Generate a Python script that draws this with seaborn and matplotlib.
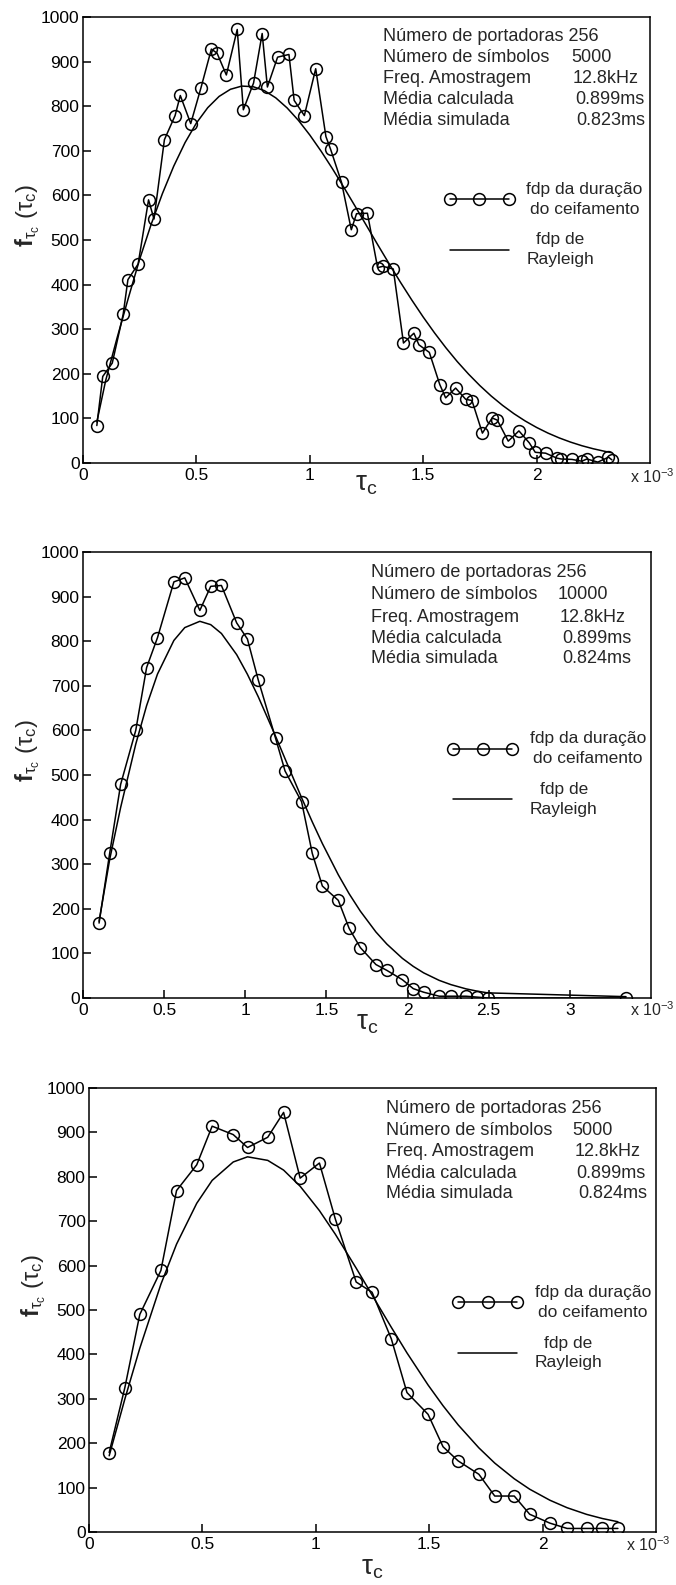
import matplotlib
matplotlib.use('Agg')
import matplotlib.pyplot as plt
import seaborn as sns
import pandas as pd

# ---------------- data ----------------
p1_x = [0.061, 0.087, 0.129, 0.177, 0.198, 0.243, 0.289, 0.313, 0.359, 0.406,
        0.429, 0.475, 0.520, 0.566, 0.591, 0.632, 0.680, 0.707, 0.752, 0.790,
        0.813, 0.858, 0.908, 0.931, 0.976, 1.026, 1.071, 1.092, 1.140, 1.183,
        1.206, 1.254, 1.299, 1.322, 1.368, 1.413, 1.459, 1.481, 1.527, 1.573,
        1.599, 1.643, 1.687, 1.715, 1.761, 1.804, 1.827, 1.875, 1.922, 1.968,
        1.994, 2.040, 2.089, 2.108, 2.156, 2.199, 2.222, 2.270, 2.317, 2.332]
p1_y = [84, 194, 224, 333, 411, 446, 590, 547, 725, 779,
        824, 761, 841, 928, 919, 870, 972, 792, 852, 963,
        843, 910, 916, 813, 779, 884, 732, 703, 629, 523,
        559, 560, 438, 441, 435, 269, 291, 265, 248, 176,
        146, 168, 143, 140, 67, 101, 96, 49, 72, 45,
        24, 22, 11, 9, 8, 4, 9, 2, 13, 7]
ray1_x = [0.061, 0.10, 0.15, 0.20, 0.25, 0.30, 0.35, 0.40, 0.45, 0.50, 0.55,
          0.60, 0.65, 0.70, 0.75, 0.80, 0.85, 0.90, 0.95, 1.00, 1.05,
          1.10, 1.15, 1.20, 1.25, 1.30, 1.35, 1.40, 1.45, 1.50, 1.55,
          1.60, 1.65, 1.70, 1.75, 1.80, 1.85, 1.90, 1.95, 2.00, 2.05,
          2.10, 2.15, 2.20, 2.25, 2.30, 2.33]
ray1_y = [92, 185, 280, 370, 457.3, 534.3, 603.9, 665.5, 718.4, 762.2, 796.7,
          821.9, 837.9, 845.1, 843.8, 834.8, 818.7, 796.1, 768.1, 735.4, 699.0,
          659.7, 618.2, 575.5, 532.2, 489.0, 446.5, 405.0, 365.2, 327.3, 291.7,
          258.4, 227.5, 199.3, 173.5, 150.1, 129.2, 110.6, 94.1, 79.7, 67.1,
          56.2, 46.8, 38.7, 31.9, 26.2, 23.2]

p2_x = [0.099, 0.165, 0.232, 0.325, 0.392, 0.459, 0.560, 0.627, 0.720, 0.787,
        0.853, 0.947, 1.013, 1.080, 1.187, 1.245, 1.347, 1.413, 1.475, 1.573,
        1.640, 1.709, 1.805, 1.872, 1.968, 2.035, 2.099, 2.195, 2.267, 2.360,
        2.427, 2.493, 3.346]
p2_y = [168, 326, 479, 600, 741, 808, 933, 942, 869, 923,
        925, 841, 805, 713, 582, 509, 440, 324, 251, 219,
        156, 113, 75, 62, 41, 21, 13, 4, 4, 4,
        2, 0, 0]
ray2_y = [172, 311.8, 427.3, 569.1, 655.6, 726.3, 801.7, 830.5, 844.6, 837.1,
          817.3, 769.8, 725.9, 675.4, 586.6, 536.5, 449.0, 394.7, 346.3, 276.4,
          233.7, 194.7, 148.0, 121.0, 88.9, 70.9, 56.4, 39.5, 30.0, 20.5,
          15.5, 11.5, 3]

p3_x = [0.089, 0.158, 0.224, 0.317, 0.386, 0.475, 0.543, 0.636, 0.699, 0.788,
        0.858, 0.931, 1.016, 1.086, 1.178, 1.248, 1.333, 1.402, 1.495, 1.561,
        1.628, 1.719, 1.789, 1.875, 1.943, 2.032, 2.108, 2.194, 2.264, 2.332]
p3_y = [179, 325, 490, 589, 769, 827, 914, 895, 866, 889,
        945, 797, 831, 705, 563, 540, 435, 314, 265, 192,
        160, 130, 81, 81, 40, 20, 8, 8, 8, 8]
ray3_y = [171.7, 299.4, 413.9, 558.0, 648.3, 740.3, 791.9, 833.4, 845.0, 837.0,
          815.1, 778.7, 723.8, 670.7, 594.3, 533.9, 461.0, 403.4, 331.1, 284.4,
          241.1, 189.5, 155.2, 119.9, 96.4, 71.6, 54.7, 39.7, 30.3, 23.1]

info_labels = ["Número de portadoras 256", "Número de símbolos", "Freq. Amostragem",
               "Média calculada", "Média simulada"]
info_values1 = ["5000", "12.8kHz", "0.899ms", "0.823ms"]
info_values2 = ["10000", "12.8kHz", "0.899ms", "0.824ms"]
info_values3 = ["5000", "12.8kHz", "0.899ms", "0.824ms"]

leg_data = "fdp da duração\ndo ceifamento"
leg_ray = "fdp de\nRayleigh"

yticks = [0, 100, 200, 300, 400, 500, 600, 700, 800, 900, 1000]
ytick_labels = ["0", "100", "200", "300", "400", "500", "600", "700", "800", "900", "1000"]
xticks_a = [0, 0.5, 1, 1.5, 2]
xtick_labels_a = ["0", "0.5", "1", "1.5", "2"]
xticks_b = [0, 0.5, 1, 1.5, 2, 2.5, 3]
xtick_labels_b = ["0", "0.5", "1", "1.5", "2", "2.5", "3"]

# ---------------- style ----------------
sns.set_style('white')
plt.rcParams['font.family'] = ['Liberation Sans', 'DejaVu Sans']
plt.rcParams['mathtext.fontset'] = 'custom'
plt.rcParams['mathtext.rm'] = 'Liberation Sans'
plt.rcParams['mathtext.it'] = 'Liberation Sans'
plt.rcParams['mathtext.bf'] = 'Liberation Sans:bold'

W, H = 676, 1585
fig = plt.figure(figsize=(W / 100, H / 100), dpi=100)
fig.patch.set_facecolor('white')


def make_panel(rect, dx, dy, rx, ry, xmax, xticks, xtl, values,
               info_x, val_x, info_y, leg_xy, xlab_y, x10_x, x10_y):
    l, t, r, b = rect
    ax = fig.add_axes([l / W, 1 - b / H, (r - l) / W, (b - t) / H])
    d = pd.DataFrame({'x': dx, 'y': dy})
    rdf = pd.DataFrame({'x': rx, 'y': ry})
    sns.lineplot(data=d, x='x', y='y', ax=ax, color='black', estimator=None,
                 marker='o', markersize=8.5, markerfacecolor='none',
                 markeredgecolor='black', markeredgewidth=1.1, linewidth=1.1,
                 label=leg_data)
    sns.lineplot(data=rdf, x='x', y='y', ax=ax, color='black', estimator=None,
                 linewidth=1.1, label=leg_ray)
    ax.set_xlim(0, xmax)
    ax.set_ylim(0, 1000)
    ax.set_xticks(xticks)
    ax.set_xticklabels(xtl)
    ax.set_yticks(yticks)
    ax.set_yticklabels(ytick_labels)
    ax.set_xlabel('')
    ax.set_ylabel('')
    ax.tick_params(direction='in', length=6, width=1.1, bottom=True, left=True,
                   top=False, right=False, labelsize=12.5, colors='black')
    ax.tick_params(axis='x', pad=3.5)
    ax.tick_params(axis='y', pad=2.5)
    for s in ax.spines.values():
        s.set_visible(True)
        s.set_color('black')
        s.set_linewidth(1.1)
    # info block
    for i, lab in enumerate(info_labels):
        ax.text(info_x, info_y[i], lab, transform=ax.transAxes, fontsize=13,
                ha='left', va='center')
    for i, v in enumerate(values):
        ax.text(val_x[i], info_y[i + 1], v, transform=ax.transAxes, fontsize=13,
                ha='left', va='center')
    leg = ax.legend(loc='upper left', bbox_to_anchor=leg_xy, frameon=False,
                    numpoints=3, handlelength=4.0, handletextpad=0.7,
                    labelspacing=0.9, borderpad=0, borderaxespad=0,
                    fontsize=12.5)
    for tx in leg.get_texts():
        tx.set_multialignment('center')
        tx.set_linespacing(1.4)
    ax.text(-0.097, 0.556, r'$\mathbf{f}_{\mathregular{\tau_c}}\mathregular{\ (\tau_c)}$',
            transform=ax.transAxes, rotation=90, ha='center', va='center',
            fontsize=17)
    ax.text(0.5, xlab_y, r'$\mathregular{\tau_c}$', transform=ax.transAxes,
            ha='center', va='center', fontsize=20)
    ax.text(x10_x, x10_y, r'x 10$^{\mathregular{-3}}$', transform=ax.transAxes,
            ha='left', va='center', fontsize=11.5)
    return ax


make_panel((83, 17, 650, 463), p1_x, p1_y, ray1_x, ray1_y, 2.5, xticks_a, xtick_labels_a,
           info_values1, 0.529, [0.861, 0.864, 0.868, 0.870],
           [0.957, 0.910, 0.861, 0.814, 0.767], (0.638, 0.630), -0.047, 0.964, -0.030)
make_panel((83, 552, 651, 998), p2_x, p2_y, p2_x, ray2_y, 3.5, xticks_b, xtick_labels_b,
           info_values2, 0.507, [0.836, 0.840, 0.843, 0.844],
           [0.953, 0.904, 0.854, 0.807, 0.762], (0.643, 0.598), -0.057, 0.963, -0.027)
make_panel((89, 1088, 656, 1532), p3_x, p3_y, p3_x, ray3_y, 2.5, xticks_a, xtick_labels_a,
           info_values3, 0.524, [0.852, 0.857, 0.860, 0.862],
           [0.953, 0.905, 0.856, 0.808, 0.763], (0.642, 0.556), -0.080, 0.947, -0.029)

fig.savefig('out.png', dpi=100, facecolor='white')
